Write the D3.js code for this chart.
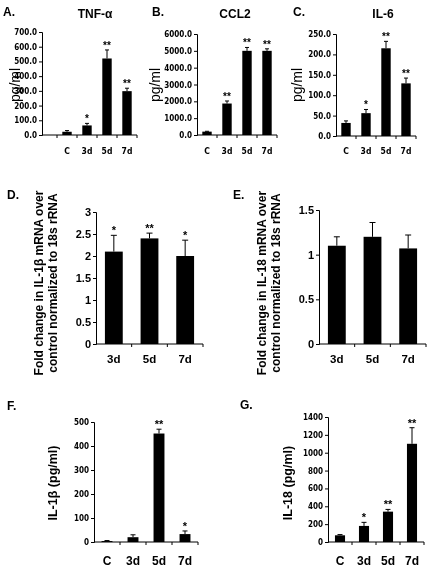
<!DOCTYPE html>
<html><head><meta charset="utf-8">
<script src="https://cdn.jsdelivr.net/npm/d3@7"></script>
<style>
html,body{margin:0;padding:0;background:#fff;}
svg{display:block;will-change:transform;}
text{-webkit-font-smoothing:antialiased;}
</style></head>
<body>
<svg id="fig" width="430" height="569"></svg>
<script>
// ---------- DATA ----------
const catsTime = ["C", "3d", "5d", "7d"];
const catsMrna = ["3d", "5d", "7d"];

const tnfValues = [22, 65, 520, 298];
const tnfErrors = [8, 14, 58, 20];
const tnfStars  = ["", "*", "**", "**"];
const tnfTicks  = [0, 100, 200, 300, 400, 500, 600, 700];

const ccl2Values = [200, 1870, 5000, 5000];
const ccl2Errors = [20, 150, 200, 120];
const ccl2Stars  = ["", "**", "**", "**"];
const ccl2Ticks  = [0, 1000, 2000, 3000, 4000, 5000, 6000];

const il6Values = [32, 56, 215, 129];
const il6Errors = [5, 9, 17, 13];
const il6Stars  = ["", "*", "**", "**"];
const il6Ticks  = [0, 50, 100, 150, 200, 250];

const il1bMrnaValues = [2.1, 2.4, 2.0];
const il1bMrnaErrors = [0.37, 0.12, 0.36];
const il1bMrnaStars  = ["*", "**", "*"];
const il1bMrnaTicks  = [0, 0.5, 1, 1.5, 2, 2.5, 3];

const il18MrnaValues = [1.1, 1.2, 1.07];
const il18MrnaErrors = [0.1, 0.16, 0.15];
const il18MrnaStars  = ["", "", ""];
const il18MrnaTicks  = [0, 0.5, 1, 1.5];

const il1bProtValues = [4, 20, 452, 33];
const il1bProtErrors = [2, 10, 18, 13];
const il1bProtStars  = ["", "", "**", "*"];
const il1bProtTicks  = [0, 100, 200, 300, 400, 500];

const il18ProtValues = [75, 180, 340, 1100];
const il18ProtErrors = [8, 40, 25, 180];
const il18ProtStars  = ["", "*", "**", "**"];
const il18ProtTicks  = [0, 200, 400, 600, 800, 1000, 1200, 1400];

// ---------- LAYOUT / STYLE ----------
const ARIAL = "Arial, 'Liberation Sans', sans-serif";
const COND = "'DejaVu Sans Condensed', 'Liberation Sans Narrow', Arial, sans-serif";

const styleTop = {tickFont: COND, tickSize: 8, tickWeight: "bold", catFont: COND, catSize: 8.5, catWeight: "bold",
  pad: 0.53, cap: 4, starSize: 10};
const styleMid = {tickFont: ARIAL, tickSize: 11, tickWeight: "bold", catFont: ARIAL, catSize: 11.5, catWeight: "bold",
  pad: 0.5, cap: 6, starSize: 11};
const styleBot = {tickFont: COND, tickSize: 8, tickWeight: "bold", catFont: ARIAL, catSize: 12, catWeight: "bold",
  pad: 0.58, cap: 5, starSize: 11};

const panels = [
  {letter: "A.", lx: 3, ly: 16, title: "TNF-\u03b1", tx: 95, ty: 18,
   cats: catsTime, values: tnfValues, errors: tnfErrors, stars: tnfStars, ticks: tnfTicks, fmt: ".1f",
   axisX: 42, band: [57, 137], y: [135, 32], catY: 154, style: styleTop,
   ylab: ["pg/ml"], ylabX: 20, ylabY: 85, ylabSize: 14, ylabWeight: "normal"},
  {letter: "B.", lx: 152, ly: 16, title: "CCL2", tx: 235, ty: 18,
   cats: catsTime, values: ccl2Values, errors: ccl2Errors, stars: ccl2Stars, ticks: ccl2Ticks, fmt: ".1f",
   axisX: 197, band: [197, 277], y: [135, 34], catY: 154, style: styleTop,
   ylab: ["pg/ml"], ylabX: 160, ylabY: 85, ylabSize: 14, ylabWeight: "normal"},
  {letter: "C.", lx: 293, ly: 16, title: "IL-6", tx: 383, ty: 18,
   cats: catsTime, values: il6Values, errors: il6Errors, stars: il6Stars, ticks: il6Ticks, fmt: ".1f",
   axisX: 336, band: [336, 416], y: [136, 34], catY: 154, style: styleTop,
   ylab: ["pg/ml"], ylabX: 302, ylabY: 85, ylabSize: 14, ylabWeight: "normal"},
  {letter: "D.", lx: 7, ly: 199, title: "", tx: 0, ty: 0,
   cats: catsMrna, values: il1bMrnaValues, errors: il1bMrnaErrors, stars: il1bMrnaStars, ticks: il1bMrnaTicks, fmt: "",
   axisX: 96, band: [96, 203], y: [344, 212], catY: 363, style: styleMid,
   ylab: ["Fold change in IL-1\u03b2 mRNA over", "control normalized to 18s rRNA"], ylabX: 43, ylabY: 283, ylabSize: 12, ylabWeight: "bold"},
  {letter: "E.", lx: 233, ly: 199, title: "", tx: 0, ty: 0,
   cats: catsMrna, values: il18MrnaValues, errors: il18MrnaErrors, stars: il18MrnaStars, ticks: il18MrnaTicks, fmt: "",
   axisX: 319, band: [319, 426], y: [344, 210], catY: 363, style: styleMid,
   ylab: ["Fold change in IL-18 mRNA over", "control normalized to 18s rRNA"], ylabX: 266, ylabY: 283, ylabSize: 12, ylabWeight: "bold"},
  {letter: "F.", lx: 7, ly: 410, title: "", tx: 0, ty: 0,
   cats: catsTime, values: il1bProtValues, errors: il1bProtErrors, stars: il1bProtStars, ticks: il1bProtTicks, fmt: "",
   axisX: 94, band: [94, 198], y: [542, 422], catY: 565, style: styleBot,
   ylab: ["IL-1\u03b2 (pg/ml)"], ylabX: 57, ylabY: 483, ylabSize: 12.5, ylabWeight: "bold"},
  {letter: "G.", lx: 240, ly: 409, title: "", tx: 0, ty: 0,
   cats: catsTime, values: il18ProtValues, errors: il18ProtErrors, stars: il18ProtStars, ticks: il18ProtTicks, fmt: "",
   axisX: 328, band: [328, 424], y: [542, 417], catY: 565, style: styleBot,
   ylab: ["IL-18 (pg/ml)"], ylabX: 292, ylabY: 483, ylabSize: 12.5, ylabWeight: "bold"}
];

const svg = d3.select("#fig");

panels.forEach(p => {
  const s = p.style;
  const g = svg.append("g");
  const x = d3.scaleBand().domain(p.cats).range(p.band).paddingInner(s.pad).paddingOuter(s.pad / 2);
  const y = d3.scaleLinear().domain([0, d3.max(p.ticks)]).range(p.y);

  g.append("text").attr("x", p.lx).attr("y", p.ly).text(p.letter)
    .attr("font-family", ARIAL).attr("font-weight", "bold").attr("font-size", 12).attr("fill", "#000");
  if (p.title) {
    g.append("text").attr("x", p.tx).attr("y", p.ty).attr("text-anchor", "middle").text(p.title)
      .attr("font-family", ARIAL).attr("font-weight", "bold").attr("font-size", 12).attr("fill", "#000");
  }

  const fmt = p.fmt ? d3.format(p.fmt) : (d => String(d));
  const yAxis = d3.axisLeft(y).tickValues(p.ticks).tickFormat(fmt).tickSize(3).tickPadding(2);
  const ya = g.append("g").attr("transform", `translate(${p.axisX},0)`).call(yAxis);
  ya.select(".domain").attr("stroke", "#000").attr("stroke-width", 1);
  ya.selectAll(".tick line").attr("stroke", "#000");
  ya.selectAll(".tick text").attr("font-family", s.tickFont).attr("font-size", s.tickSize)
    .attr("font-weight", s.tickWeight).attr("fill", "#000");

  const y0 = y(0);
  g.append("line").attr("x1", p.axisX).attr("x2", p.band[1]).attr("y1", y0).attr("y2", y0)
    .attr("stroke", "#000").attr("stroke-width", 1);
  const step = x.step();
  const half = (step - x.bandwidth()) / 2;
  const firstEdge = x(p.cats[0]) - half;
  const edges = [firstEdge, ...p.cats.map(c => x(c) - half + step)];
  edges.forEach(ex => {
    if (Math.abs(ex - p.axisX) < 1) return;
    g.append("line").attr("x1", ex).attr("x2", ex).attr("y1", y0).attr("y2", y0 + 3)
      .attr("stroke", "#000").attr("stroke-width", 1);
  });

  p.cats.forEach(c => {
    g.append("text").attr("x", x(c) + x.bandwidth() / 2).attr("y", p.catY).attr("text-anchor", "middle")
      .text(c).attr("font-family", s.catFont).attr("font-size", s.catSize).attr("font-weight", s.catWeight).attr("fill", "#000");
  });

  g.selectAll("rect.bar").data(p.values).enter().append("rect").attr("class", "bar")
    .attr("x", (d, i) => x(p.cats[i])).attr("width", x.bandwidth())
    .attr("y", d => y(d)).attr("height", d => y0 - y(d)).attr("fill", "#000");

  const starG = g.append("g").attr("opacity", 0.999);
  p.values.forEach((v, i) => {
    const cx = x(p.cats[i]) + x.bandwidth() / 2;
    const top = y(v + p.errors[i]);
    g.append("line").attr("x1", cx).attr("x2", cx).attr("y1", y(v)).attr("y2", top).attr("stroke", "#000").attr("stroke-width", 1);
    g.append("line").attr("x1", cx - s.cap / 2).attr("x2", cx + s.cap / 2).attr("y1", top).attr("y2", top).attr("stroke", "#000").attr("stroke-width", 1);
    if (p.stars[i]) {
      starG.append("text").attr("x", cx).attr("y", top - 1).attr("text-anchor", "middle").text(p.stars[i])
        .attr("font-family", ARIAL).attr("font-weight", "bold").attr("font-size", s.starSize).attr("fill", "#000");
    }
  });

  const lab = g.append("text").attr("transform", `translate(${p.ylabX},${p.ylabY}) rotate(-90)`)
    .attr("text-anchor", "middle").attr("font-family", ARIAL).attr("font-size", p.ylabSize)
    .attr("font-weight", p.ylabWeight).attr("fill", "#000");
  p.ylab.forEach((line, k) => {
    lab.append("tspan").attr("x", 0).attr("y", k * 14).text(line);
  });
});
</script>
</body></html>
